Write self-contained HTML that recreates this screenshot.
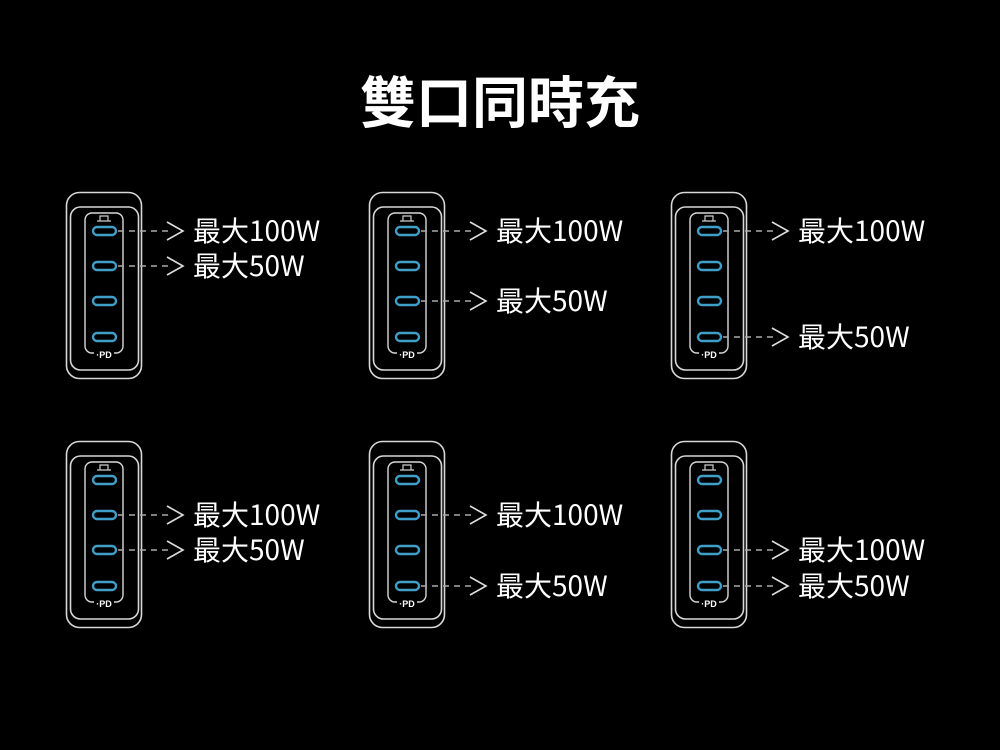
<!DOCTYPE html>
<html><head><meta charset="utf-8"><style>
html,body{margin:0;padding:0;background:#000;}
svg{display:block}
.t{font-family:"Liberation Sans","Noto Sans CJK TC",sans-serif;fill:#fff;}
.n{font-family:"Noto Sans CJK TC",sans-serif;fill:#fff;}
</style></head><body>
<svg width="1000" height="750" viewBox="0 0 1000 750" xmlns="http://www.w3.org/2000/svg">
<defs>
<g id="ch">
<rect x="0.5" y="0.5" width="75" height="186" rx="13" fill="none" stroke="#d8d8d8" stroke-width="1.6"/>
<rect x="4.5" y="15" width="68" height="163" rx="10" fill="none" stroke="#d8d8d8" stroke-width="1.6"/>
<rect x="19" y="21" width="38" height="140" rx="7" fill="none" stroke="#d8d8d8" stroke-width="1.4"/>
<path d="M34 29 v-5 h8 v5 M31 29 h14" fill="none" stroke="#ccc" stroke-width="1.2"/>
<g fill="none" stroke="#3f9fc8" stroke-width="2.4">
<rect x="27" y="35" width="23" height="8" rx="4"/>
<rect x="27" y="70" width="23" height="8" rx="4"/>
<rect x="27" y="105" width="23" height="8" rx="4"/>
<rect x="27" y="141" width="23" height="8" rx="4"/>
</g>
<rect x="28" y="157" width="20" height="10" fill="#000"/>
<text x="38" y="166" font-size="9" font-weight="bold" text-anchor="middle" class="t">·PD</text>
</g>
<g id="ar">
<line x1="0" y1="0" x2="50" y2="0" stroke="#aaa" stroke-width="1.5" stroke-dasharray="6,5"/>
<path d="M49 -9 L65 0 L49 9" fill="none" stroke="#ddd" stroke-width="1.6"/>
</g>
</defs>
<text x="500" y="123" font-size="56" font-weight="bold" text-anchor="middle" class="t">雙口同時充</text>

<use href="#ch" x="66" y="192"/>
<use href="#ch" x="369" y="192"/>
<use href="#ch" x="671" y="192"/>
<use href="#ch" x="66" y="441"/>
<use href="#ch" x="369" y="441"/>
<use href="#ch" x="671" y="441"/>

<g font-size="28" class="n">
<use href="#ar" x="118" y="231"/><text x="193" y="241">最大100W</text>
<use href="#ar" x="118" y="266"/><text x="193" y="276">最大50W</text>
<use href="#ar" x="421" y="231"/><text x="496" y="241">最大100W</text>
<use href="#ar" x="421" y="301"/><text x="496" y="311">最大50W</text>
<use href="#ar" x="723" y="231"/><text x="798" y="241">最大100W</text>
<use href="#ar" x="723" y="337"/><text x="798" y="347">最大50W</text>
<use href="#ar" x="118" y="515"/><text x="193" y="525">最大100W</text>
<use href="#ar" x="118" y="550"/><text x="193" y="560">最大50W</text>
<use href="#ar" x="421" y="515"/><text x="496" y="525">最大100W</text>
<use href="#ar" x="421" y="586"/><text x="496" y="596">最大50W</text>
<use href="#ar" x="723" y="550"/><text x="798" y="560">最大100W</text>
<use href="#ar" x="723" y="586"/><text x="798" y="596">最大50W</text>
</g>
</svg>
</body></html>
